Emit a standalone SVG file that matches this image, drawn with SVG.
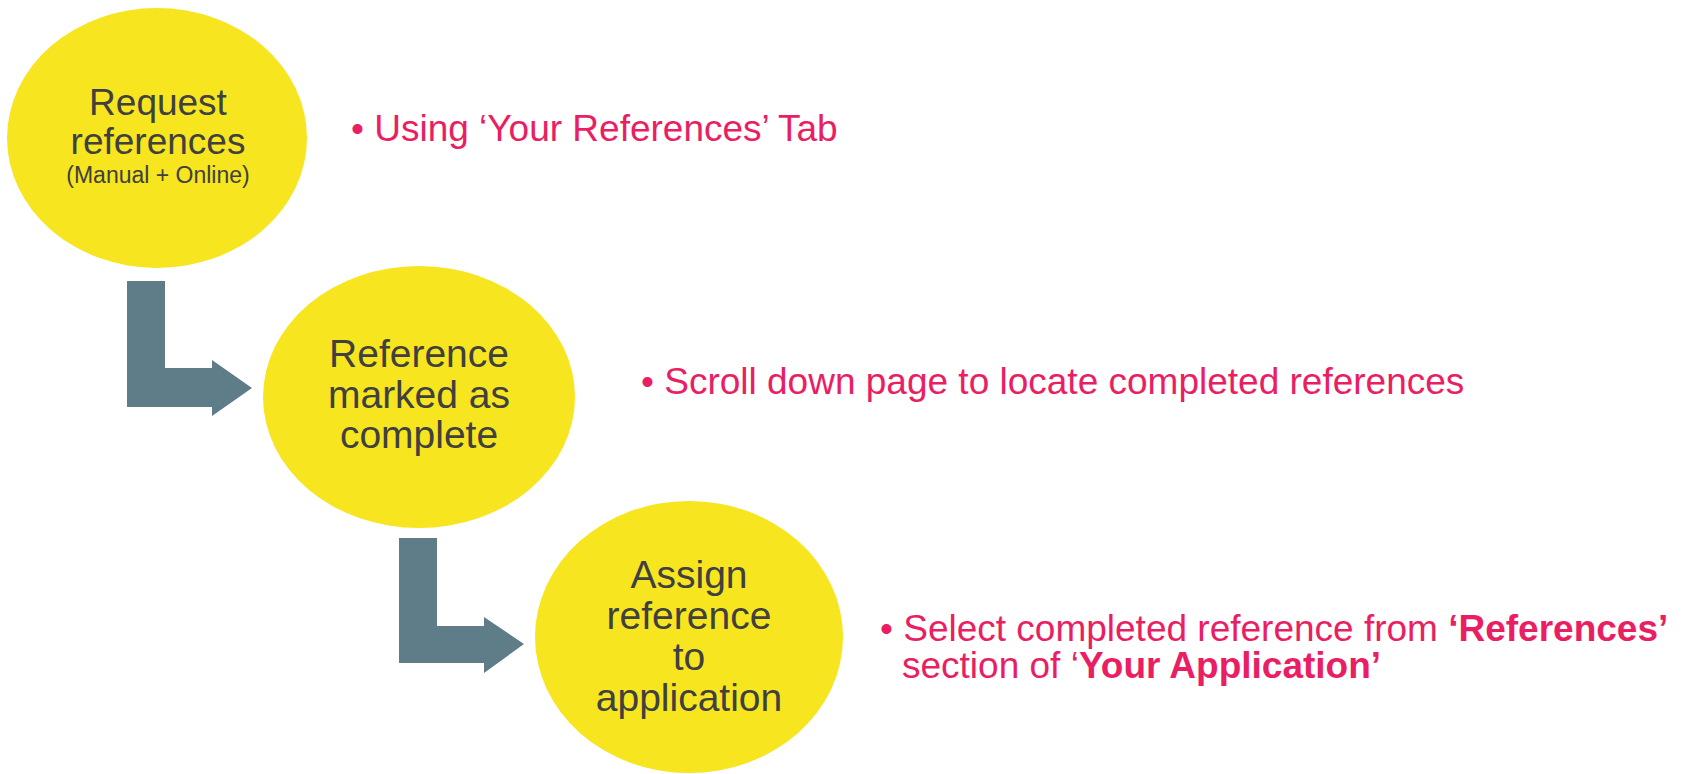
<svg xmlns="http://www.w3.org/2000/svg" width="1684" height="774" viewBox="0 0 1684 774">
<style>
.node{fill:#F6E51F}
.nt{font-family:"Liberation Sans",Arial,sans-serif;fill:#404040;text-anchor:middle}
.arrow{fill:#5F7C89}
.note{font-family:"Liberation Sans",Arial,sans-serif;font-size:37px;fill:#E91E63}
.b{font-weight:bold}
</style>
<rect width="1684" height="774" fill="#FFFFFF"/>
<g id="connectors">
<polygon class="arrow" points="127,281 165,281 165,368 212,368 212,360 252,388 212,416 212,407 127,407"/>
<polygon class="arrow" points="399,538 437,538 437,626 484,626 484,617 524,644 484,673 484,663 399,663"/>
</g>
<g id="node-request">
<ellipse class="node" cx="157" cy="138" rx="150" ry="130"/>
<text class="nt" font-size="37"><tspan x="158" y="115">Request</tspan><tspan x="158" y="154">references</tspan></text>
<text class="nt" font-size="23" x="158" y="183">(Manual + Online)</text>
</g>
<g id="node-complete">
<ellipse class="node" cx="419" cy="397" rx="156" ry="131"/>
<text class="nt" font-size="39"><tspan x="419" y="367">Reference</tspan><tspan x="419" y="408">marked as</tspan><tspan x="419" y="448">complete</tspan></text>
</g>
<g id="node-assign">
<ellipse class="node" cx="689" cy="637" rx="154" ry="136"/>
<text class="nt" font-size="39"><tspan x="689" y="588">Assign</tspan><tspan x="689" y="629">reference</tspan><tspan x="689" y="670">to</tspan><tspan x="689" y="711">application</tspan></text>
</g>
<g id="note-1">
<text class="note" x="351" y="141">• Using ‘Your References’ Tab</text>
</g>
<g id="note-2">
<text class="note" x="641" y="394">• Scroll down page to locate completed references</text>
</g>
<g id="note-3">
<text class="note" x="880" y="641">• Select completed reference from <tspan class="b">‘References’</tspan></text>
<text class="note" x="902" y="678">section of ‘<tspan class="b">Your Application’</tspan></text>
</g>
</svg>
